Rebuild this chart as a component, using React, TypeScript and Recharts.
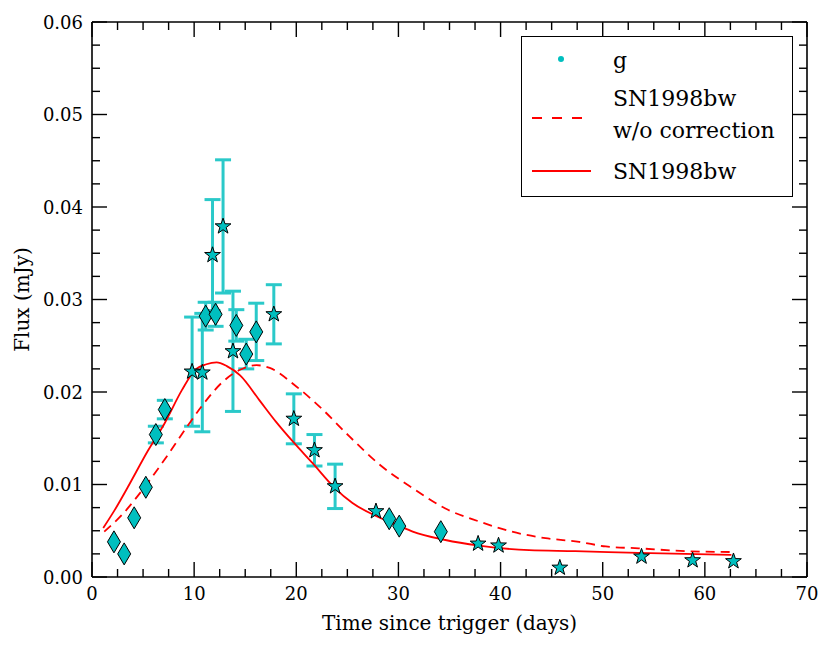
import React from 'react';
import { ComposedChart, Line, Scatter, XAxis, YAxis, ErrorBar, Legend } from 'recharts';

const FONT = '"DejaVu Serif", serif';
const CYAN = '#00bfbf';
const BAR = '#2ac9c9';
const RED = '#ff0000';

// plot frame inside the 831x648 picture
const W = 831;
const H = 648;
const PLOT_LEFT = 92;
const PLOT_RIGHT = 807;
const PLOT_TOP = 22;
const PLOT_BOTTOM = 577;

// g-band points drawn as diamonds
const diamondDays = [2.15, 3.15, 4.13, 5.27, 6.25, 7.13, 11.13, 12.1, 14.13, 15.1, 16.08, 29.1, 30.08, 34.15];
const diamondFlux = [0.0038, 0.0025, 0.0064, 0.0097, 0.0154, 0.0181, 0.0282, 0.0284, 0.0272, 0.0241, 0.0265, 0.0063, 0.0055, 0.0049];
const diamondErr = [0, 0, 0, 0, 0.0009, 0.001, 0.0015, 0.0013, 0.0017, 0.0016, 0.0031, 0, 0, 0];

// g-band points drawn as stars
const starDays = [9.8, 10.8, 11.8, 12.83, 13.8, 17.8, 19.76, 21.78, 23.8, 27.8, 37.8, 39.8, 45.8, 53.8, 58.8, 62.8];
const starFlux = [0.0222, 0.0221, 0.0348, 0.0379, 0.0244, 0.0284, 0.0171, 0.0137, 0.0098, 0.0071, 0.0036, 0.0034, 0.001, 0.0022, 0.0018, 0.0017];
const starErr = [0.0059, 0.0064, 0.006, 0.0072, 0.0065, 0.0032, 0.0027, 0.0017, 0.0024, 0, 0, 0, 0, 0, 0, 0];

// SN1998bw template, corrected
const bwDays = [1.1, 2.2, 3.5, 5.5, 7.1, 8.8, 10.1, 11.2, 12.2, 13.2, 14.5, 16.4, 18.0, 19.7, 21.6, 23.7, 25.5, 27.8, 29.8, 31.4, 34.6, 37.9, 42.8, 47.3, 53.5, 62.6];
const bwFlux = [0.0053, 0.0072, 0.0097, 0.0137, 0.0166, 0.0202, 0.0224, 0.023, 0.0232, 0.0228, 0.0218, 0.0191, 0.0168, 0.0146, 0.0123, 0.0097, 0.008, 0.0066, 0.0057, 0.0049, 0.004, 0.0034, 0.0029, 0.0028, 0.0026, 0.0024];

// SN1998bw template without correction
const rawDays = [1.2, 3.0, 5.2, 7.3, 9.4, 10.7, 12.8, 14.5, 16.1, 17.4, 20.0, 22.3, 25.2, 28.1, 31.4, 34.6, 37.9, 41.1, 44.4, 47.7, 50.3, 53.5, 58.1, 62.6];
const rawFlux = [0.0049, 0.0068, 0.0098, 0.013, 0.0164, 0.0184, 0.0211, 0.0224, 0.0229, 0.0226, 0.0206, 0.0184, 0.0152, 0.0122, 0.0096, 0.0074, 0.006, 0.0049, 0.0042, 0.0038, 0.0033, 0.0031, 0.0028, 0.0027];

const xTicks = [0, 2.5, 5, 7.5, 10, 12.5, 15, 17.5, 20, 22.5, 25, 27.5, 30, 32.5, 35, 37.5, 40, 42.5, 45, 47.5, 50, 52.5, 55, 57.5, 60, 62.5, 65, 67.5, 70];
const yTicks = [0, 0.0025, 0.005, 0.0075, 0.01, 0.0125, 0.015, 0.0175, 0.02, 0.0225, 0.025, 0.0275, 0.03, 0.0325, 0.035, 0.0375, 0.04, 0.0425, 0.045, 0.0475, 0.05, 0.0525, 0.055, 0.0575, 0.06];

const LEGEND_ORDER = ['g', 'SN1998bw\nw/o correction', 'SN1998bw'];

const toPoints = (xs: number[], ys: number[], es?: number[]) =>
  xs.map((x, i) => ({ x, y: ys[i], err: es ? es[i] : 0 }));

const diamonds = toPoints(diamondDays, diamondFlux, diamondErr);
const stars = toPoints(starDays, starFlux, starErr);
const bwLine = toPoints(bwDays, bwFlux);
const rawLine = toPoints(rawDays, rawFlux);

const isMajorX = (v: number) => v % 10 === 0;
const isMajorY = (v: number) => Math.abs(v * 100 - Math.round(v * 100)) < 1e-6;

const TICK = { stroke: '#000', strokeWidth: 1.4 };
const LABEL = { fontSize: 18, fontFamily: FONT, fill: '#000' };
const FRAME = { stroke: '#000', strokeWidth: 1.6 };

// ticks point inward, matplotlib style
const BottomTick = ({ x, payload }: any) => {
  const major = isMajorX(payload.value);
  return (
    <g>
      <line x1={x} x2={x} y1={PLOT_BOTTOM} y2={PLOT_BOTTOM - (major ? 15 : 8)} {...TICK} />
      {major && <text x={x} y={PLOT_BOTTOM + 23} textAnchor="middle" {...LABEL}>{payload.value}</text>}
    </g>
  );
};

const TopTick = ({ x, payload }: any) => (
  <line x1={x} x2={x} y1={PLOT_TOP} y2={PLOT_TOP + (isMajorX(payload.value) ? 15 : 8)} {...TICK} />
);

const LeftTick = ({ y, payload }: any) => {
  const major = isMajorY(payload.value);
  return (
    <g>
      <line x1={PLOT_LEFT} x2={PLOT_LEFT + (major ? 15 : 8)} y1={y} y2={y} {...TICK} />
      {major && <text x={PLOT_LEFT - 9} y={y + 6.5} textAnchor="end" {...LABEL}>{payload.value.toFixed(2)}</text>}
    </g>
  );
};

const RightTick = ({ y, payload }: any) => (
  <line x1={PLOT_RIGHT} x2={PLOT_RIGHT - (isMajorY(payload.value) ? 15 : 8)} y1={y} y2={y} {...TICK} />
);

const DiamondMark = ({ cx, cy }: any) => (
  <polygon
    points={`${cx},${cy - 11} ${cx + 6.5},${cy} ${cx},${cy + 11} ${cx - 6.5},${cy}`}
    fill={CYAN}
    stroke="#000"
    strokeWidth={1}
  />
);

const StarMark = ({ cx, cy }: any) => {
  const pts: string[] = [];
  for (let i = 0; i < 10; i++) {
    const r = i % 2 === 0 ? 8.3 : 3.3;
    const a = -Math.PI / 2 + (i * Math.PI) / 5;
    pts.push(`${cx + r * Math.cos(a)},${cy + r * Math.sin(a)}`);
  }
  return <polygon points={pts.join(' ')} fill={CYAN} stroke="#000" strokeWidth={1} />;
};

const XTitle = () => (
  <text x={(PLOT_LEFT + PLOT_RIGHT) / 2} y={PLOT_BOTTOM + 53} textAnchor="middle" fontSize={20} fontFamily={FONT} fill="#000">
    Time since trigger (days)
  </text>
);

const YTitle = () => {
  const cx = 22;
  const cy = (PLOT_TOP + PLOT_BOTTOM) / 2;
  return (
    <text x={cx} y={cy} transform={`rotate(-90 ${cx} ${cy})`} textAnchor="middle" dominantBaseline="central" fontSize={20} fontFamily={FONT} fill="#000">
      Flux (mJy)
    </text>
  );
};

const LegendBox = ({ payload }: any) => {
  const items = [...(payload ?? [])]
    .filter((p: any) => LEGEND_ORDER.includes(p.value))
    .sort((a: any, b: any) => LEGEND_ORDER.indexOf(a.value) - LEGEND_ORDER.indexOf(b.value));
  const rows = [
    { mark: 22, lines: [31] },
    { mark: 81, lines: [69, 101] },
    { mark: 134, lines: [142] },
  ];
  return (
    <div style={{ width: 272, height: 161, boxSizing: 'border-box', border: '1.5px solid #000', background: '#fff' }}>
      <svg width={269} height={158} style={{ display: 'block' }}>
        {items.map((it: any, i: number) => {
          const row = rows[i];
          const text = String(it.value).split('\n');
          const dashed = text.length > 1;
          return (
            <g key={it.value}>
              {it.type === 'line' ? (
                <line x1={10} x2={dashed ? 60 : 69} y1={row.mark} y2={row.mark} stroke={RED} strokeWidth={1.8} strokeDasharray={dashed ? '10 10' : undefined} />
              ) : (
                <circle cx={39} cy={row.mark} r={3} fill={CYAN} />
              )}
              {text.map((t, j) => (
                <text key={j} x={91} y={row.lines[j]} fontSize={22} fontFamily={FONT} fill="#000">{t}</text>
              ))}
            </g>
          );
        })}
      </svg>
    </div>
  );
};

export default function App() {
  return (
    <div style={{ position: 'absolute', left: 0, top: 0, background: '#fff' }}>
      <ComposedChart
        width={W}
        height={H}
        margin={{ top: PLOT_TOP - 1, right: W - PLOT_RIGHT - 1, bottom: H - PLOT_BOTTOM - 60, left: PLOT_LEFT - 80 }}
      >
        <XAxis dataKey="x" type="number" domain={[0, 70]} ticks={xTicks} interval={0} height={60} tickLine={false} tick={<BottomTick />} axisLine={FRAME} allowDataOverflow label={<XTitle />} />
        <XAxis xAxisId="top" dataKey="x" orientation="top" type="number" domain={[0, 70]} ticks={xTicks} interval={0} height={1} tickLine={false} tick={<TopTick />} axisLine={FRAME} allowDataOverflow />
        <YAxis dataKey="y" type="number" domain={[0, 0.06]} ticks={yTicks} interval={0} width={80} tickLine={false} tick={<LeftTick />} axisLine={FRAME} allowDataOverflow label={<YTitle />} />
        <YAxis yAxisId="right" dataKey="y" orientation="right" type="number" domain={[0, 0.06]} ticks={yTicks} interval={0} width={1} tickLine={false} tick={<RightTick />} axisLine={FRAME} allowDataOverflow />
        <Legend layout="vertical" align="center" verticalAlign="middle" content={<LegendBox />} wrapperStyle={{ left: 521, top: 36, width: 272, height: 161 }} />
        <Scatter name="g" data={diamonds} shape={<DiamondMark />} fill={CYAN} isAnimationActive={false}>
          <ErrorBar dataKey="err" direction="y" width={8} stroke={BAR} strokeWidth={3} />
        </Scatter>
        <Scatter name="g stars" data={stars} shape={<StarMark />} fill={CYAN} legendType="none" isAnimationActive={false}>
          <ErrorBar dataKey="err" direction="y" width={8} stroke={BAR} strokeWidth={3} />
        </Scatter>
        <Line name={'SN1998bw\nw/o correction'} data={rawLine} dataKey="y" type="monotone" stroke={RED} strokeWidth={1.8} strokeDasharray="9 6" dot={false} activeDot={false} isAnimationActive={false} />
        <Line name="SN1998bw" data={bwLine} dataKey="y" type="monotone" stroke={RED} strokeWidth={1.8} dot={false} activeDot={false} isAnimationActive={false} />
        {/* invisible twin so the top and right frame axes get drawn */}
        <Line name="frame" xAxisId="top" yAxisId="right" data={bwLine} dataKey="y" stroke="none" legendType="none" dot={false} activeDot={false} isAnimationActive={false} />
      </ComposedChart>
    </div>
  );
}
